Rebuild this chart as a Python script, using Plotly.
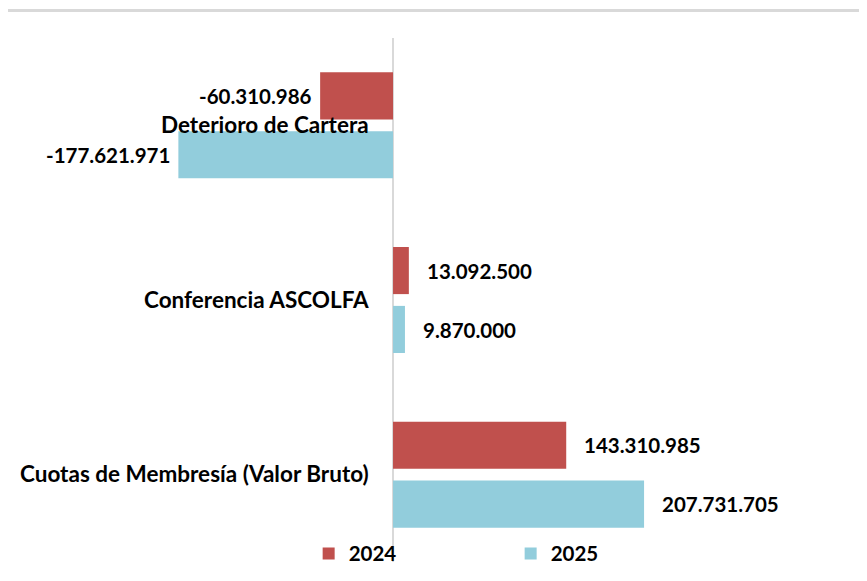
import plotly.graph_objects as go

categories = ['Deterioro de Cartera', 'Conferencia ASCOLFA', 'Cuotas de Membresía (Valor Bruto)']
values_2024 = [-60310986, 13092500, 143310985]
values_2025 = [-177621971, 9870000, 207731705]
series_names = ['2024', '2025']
colors = ['#C0504D', '#92CDDC']


def fmt(v):
    # thousands separated with dots
    return f"{v:,}".replace(',', '.')


fig = go.Figure()
for name, vals, col in zip(series_names, [values_2024, values_2025], colors):
    fig.add_trace(go.Bar(y=categories, x=vals, name=name, orientation='h',
                         marker=dict(color=col, line=dict(width=0))))

font_family = 'Lato'
annotations = []
# category labels placed next to the zero axis
for c in categories:
    annotations.append(dict(x=0, y=c, xref='x', yref='y', text=c, showarrow=False,
                            xanchor='right', xshift=-22, yshift=1,
                            font=dict(family=font_family, size=22.5, color='black', weight='bold')))
# data labels
for vals, shift in zip([values_2024, values_2025], [-29.5, 29.5]):
    for c, v in zip(categories, vals):
        annotations.append(dict(x=v, y=c, xref='x', yref='y', text=fmt(v), showarrow=False,
                                xanchor='left' if v > 0 else 'right',
                                xshift=16 if v > 0 else -6, yshift=-shift,
                                font=dict(family=font_family, size=20.5, color='black', weight='bold')))

fig.update_layout(
    barmode='group',
    bargap=0.326,
    bargroupgap=0.2,
    width=859, height=573,
    margin=dict(l=0, r=0, t=29.5, b=18.5),
    plot_bgcolor='white', paper_bgcolor='white',
    showlegend=True,
    legend=dict(orientation='h', x=0.35, xanchor='left', y=0.016, yanchor='middle',
                entrywidth=157, entrywidthmode='pixels',
                font=dict(family=font_family, size=20.5, color='black', weight='bold'),
                bgcolor='rgba(0,0,0,0)'),
    annotations=annotations,
    shapes=[dict(type='line', xref='paper', yref='paper', x0=0, x1=1,
                 y0=1.0524, y1=1.0524, line=dict(color='#d9d9d9', width=3))],
)

fig.update_xaxes(range=[-318.6e6, 392.2e6], showgrid=False, showticklabels=False,
                 zeroline=True, zerolinecolor='#d9d9d9', zerolinewidth=2)
fig.update_yaxes(categoryorder='array', categoryarray=categories, autorange='reversed',
                 showgrid=False, showticklabels=False, zeroline=False)

fig.write_html("out.html")
